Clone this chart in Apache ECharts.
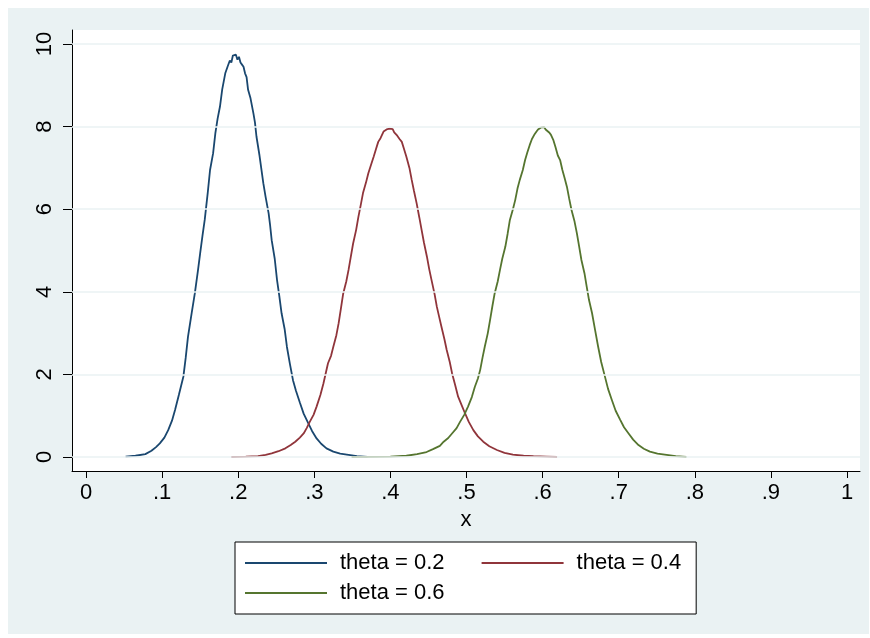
<!DOCTYPE html>
<html>
<head>
<meta charset="utf-8">
<script src="https://cdn.jsdelivr.net/npm/echarts@6/dist/echarts.min.js"></script>
<style>
html,body{margin:0;padding:0;background:#fff;}
#bg{position:absolute;left:8px;top:8px;width:861px;height:626px;background:#eaf2f3;}
#chart{position:absolute;left:0;top:0;width:870px;height:638px;}
</style>
</head>
<body>
<div id="bg"></div>
<div id="chart"></div>
<script>
// ---- data ----
const seriesNames = ['theta = 0.2', 'theta = 0.4', 'theta = 0.6'];
const xTickValues = [0, 0.1, 0.2, 0.3, 0.4, 0.5, 0.6, 0.7, 0.8, 0.9, 1];
const xTickLabels = ['0', '.1', '.2', '.3', '.4', '.5', '.6', '.7', '.8', '.9', '1'];
const yTickValues = [0, 2, 4, 6, 8, 10];
const yTickLabels = ['0', '2', '4', '6', '8', '10'];

const theta02 = [[.052,.01],[.065,.03],[.078,.07],[.086,.15],[.092,.24],[.097,.33],[.103,.47],[.108,.65],[.113,.88],[.117,1.14],[.122,1.5],[.128,1.95],[.131,2.4],[.134,2.91],[.139,3.5],[.143,3.96],[.147,4.5],[.150,4.93],[.153,5.35],[.156,5.74],[.160,6.4],[.163,6.95],[.167,7.35],[.170,7.84],[.173,8.2],[.176,8.48],[.179,8.9],[.183,9.29],[.186,9.45],[.189,9.6],[.191,9.55],[.193,9.72],[.195,9.68],[.197,9.74],[.199,9.62],[.201,9.69],[.203,9.55],[.205,9.5],[.207,9.45],[.209,9.29],[.211,9.2],[.213,8.89],[.216,8.7],[.220,8.32],[.222,8.1],[.224,7.76],[.228,7.3],[.233,6.63],[.236,6.3],[.240,5.9],[.242,5.6],[.244,5.25],[.248,4.8],[.251,4.29],[.254,3.9],[.257,3.48],[.261,3.1],[.264,2.67],[.268,2.25],[.272,1.86],[.276,1.6],[.281,1.32],[.286,1.05],[.292,.82],[.297,.63],[.303,.45],[.309,.32],[.316,.21],[.325,.13],[.334,.08],[.345,.05],[.356,.02],[.37,.005]];

const theta04 = [[.191,0],[.21,.01],[.226,.02],[.236,.05],[.244,.09],[.253,.14],[.262,.21],[.269,.29],[.275,.37],[.281,.47],[.286,.57],[.290,.7],[.294,.85],[.299,1.02],[.303,1.22],[.308,1.5],[.312,1.78],[.318,2.27],[.322,2.45],[.325,2.67],[.329,2.95],[.332,3.24],[.335,3.6],[.338,3.96],[.342,4.25],[.345,4.53],[.348,4.85],[.351,5.17],[.355,5.5],[.358,5.82],[.361,6.1],[.364,6.39],[.368,6.65],[.371,6.87],[.375,7.1],[.378,7.27],[.381,7.45],[.384,7.63],[.387,7.72],[.389,7.8],[.391,7.88],[.393,7.86],[.395,7.93],[.397,7.9],[.399,7.95],[.401,7.91],[.403,7.94],[.405,7.86],[.407,7.84],[.409,7.78],[.412,7.7],[.415,7.63],[.418,7.45],[.421,7.27],[.425,7.0],[.428,6.71],[.431,6.44],[.4345,6.14],[.438,5.8],[.441,5.5],[.444,5.2],[.448,4.85],[.451,4.55],[.454,4.29],[.458,3.95],[.461,3.64],[.464,3.4],[.467,3.16],[.471,2.85],[.474,2.59],[.478,2.3],[.481,2.03],[.485,1.75],[.489,1.46],[.494,1.24],[.498,1.06],[.503,.85],[.509,.65],[.515,.5],[.522,.37],[.530,.26],[.540,.17],[.550,.1],[.561,.06],[.575,.03],[.588,.02],[.605,.01],[.619,0]];

const theta06 = [[.349,0],[.38,.005],[.40,.01],[.421,.03],[.435,.07],[.4475,.12],[.456,.19],[.465,.27],[.470,.37],[.476,.46],[.481,.57],[.487,.7],[.4915,.85],[.497,1.02],[.502,1.22],[.507,1.45],[.511,1.7],[.515,1.9],[.518,2.11],[.521,2.4],[.524,2.67],[.528,3.0],[.531,3.32],[.534,3.65],[.537,3.96],[.541,4.25],[.544,4.53],[.547,4.8],[.551,5.09],[.554,5.4],[.557,5.74],[.561,6.0],[.564,6.22],[.567,6.5],[.570,6.71],[.574,6.95],[.577,7.19],[.580,7.38],[.583,7.55],[.586,7.7],[.589,7.8],[.592,7.88],[.594,7.93],[.596,7.9],[.598,7.98],[.600,7.95],[.602,7.99],[.604,7.93],[.606,7.92],[.609,7.85],[.611,7.8],[.614,7.68],[.617,7.5],[.620,7.3],[.623,7.19],[.626,6.95],[.629,6.75],[.632,6.54],[.635,6.25],[.638,5.98],[.642,5.7],[.645,5.42],[.648,5.1],[.651,4.77],[.655,4.45],[.658,4.12],[.661,3.8],[.665,3.48],[.669,3.07],[.673,2.67],[.677,2.3],[.682,1.94],[.686,1.65],[.691,1.38],[.696,1.12],[.702,.9],[.707,.72],[.713,.57],[.719,.42],[.726,.29],[.733,.2],[.741,.13],[.751,.08],[.763,.05],[.775,.02],[.789,0]];

const colors = ['#1a476f', '#90353b', '#55752f'];
const FONT = '"Liberation Sans", Arial, Helvetica, sans-serif';
const FS = 22;

const chart = echarts.init(document.getElementById('chart'), null, {renderer: 'canvas'});

function lineSeries(name, data, color) {
  return {
    name: name, type: 'line', data: data, showSymbol: false, symbol: 'none',
    smooth: false, z: 3, animation: false,
    lineStyle: {color: color, width: 1.8}, itemStyle: {color: color}
  };
}

const option = {
  backgroundColor: 'transparent',
  animation: false,
  textStyle: {fontFamily: FONT},
  grid: {left: 72, right: 10, top: 30, bottom: 167, show: true, backgroundColor: '#ffffff', borderWidth: 0, containLabel: false},
  xAxis: {
    type: 'value', min: -14/761, max: 774/761,
    name: 'x', nameLocation: 'middle', nameGap: 34,
    nameTextStyle: {color: '#000', fontSize: FS, fontFamily: FONT},
    axisLine: {show: true, onZero: false, lineStyle: {color: '#000', width: 1}},
    axisTick: {show: true, length: 7, customValues: xTickValues, lineStyle: {color: '#000', width: 1}},
    axisLabel: {show: true, customValues: xTickValues, margin: 11, color: '#000', fontSize: FS, fontFamily: FONT,
      formatter: function (v) { const i = xTickValues.findIndex(t => Math.abs(t - v) < 1e-6); return i >= 0 ? xTickLabels[i] : ''; }},
    splitLine: {show: false}
  },
  yAxis: {
    type: 'value', min: -14/41.3, max: 427/41.3,
    axisLine: {show: true, onZero: false, lineStyle: {color: '#000', width: 1}},
    axisTick: {show: true, length: 9, customValues: yTickValues, lineStyle: {color: '#000', width: 1}},
    axisLabel: {show: true, customValues: yTickValues, rotate: 90, margin: 16, color: '#000', fontSize: FS, fontFamily: FONT,
      formatter: function (v) { const i = yTickValues.findIndex(t => Math.abs(t - v) < 1e-6); return i >= 0 ? yTickLabels[i] : ''; }},
    splitLine: {show: false}
  },
  legend: [{
    data: [seriesNames[0], seriesNames[1]],
    left: 235, top: 542, orient: 'horizontal',
    padding: [10, 15, 40, 10], itemGap: 37,
    borderColor: '#000', borderWidth: 1, backgroundColor: '#fff',
    icon: 'rect', itemWidth: 82, itemHeight: 2,
    textStyle: {color: '#000', fontSize: FS, fontFamily: FONT, padding: [0, 0, 0, 8]}
  }, {
    data: [seriesNames[2]],
    left: 245, top: 582, orient: 'horizontal', padding: 0,
    icon: 'rect', itemWidth: 82, itemHeight: 2,
    textStyle: {color: '#000', fontSize: FS, fontFamily: FONT, padding: [0, 0, 0, 8]}
  }],
  series: [
    {
      name: 'grid', type: 'line', data: [], z: 1, silent: true, showSymbol: false,
      markLine: {
        silent: true, symbol: 'none', animation: false,
        label: {show: false},
        lineStyle: {color: '#eaf2f3', width: 1.6, type: 'solid'},
        data: yTickValues.map(v => ({yAxis: v}))
      }
    },
    lineSeries(seriesNames[0], theta02, colors[0]),
    lineSeries(seriesNames[1], theta04, colors[1]),
    lineSeries(seriesNames[2], theta06, colors[2])
  ]
};
chart.setOption(option);
</script>
</body>
</html>
